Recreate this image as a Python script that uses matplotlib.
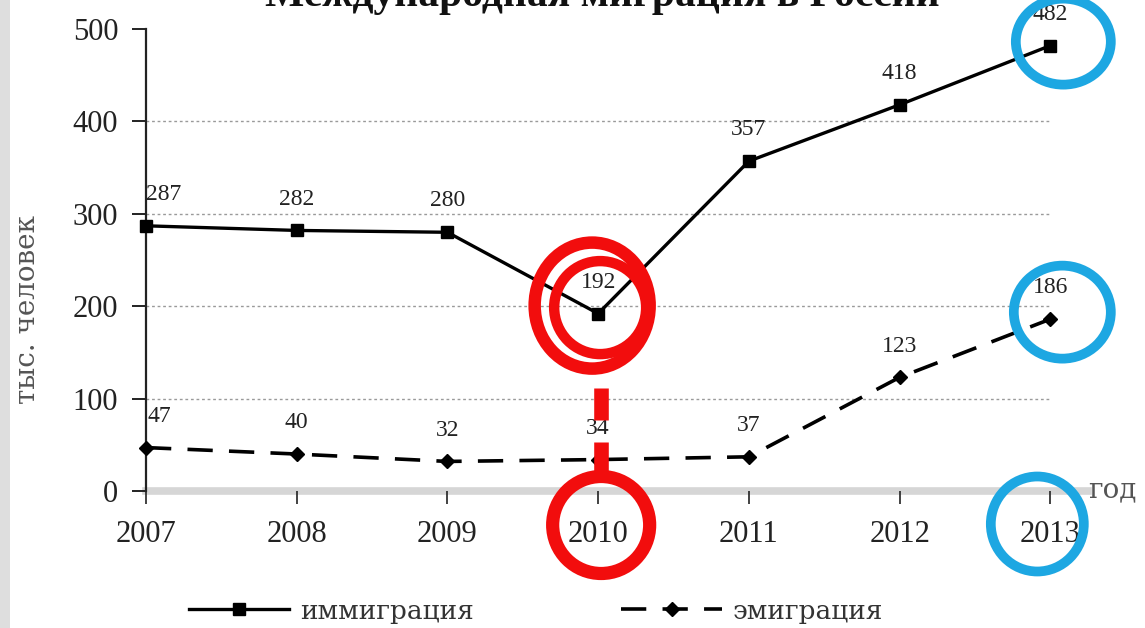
import matplotlib
matplotlib.use("Agg")
import matplotlib.pyplot as plt
from matplotlib.patches import Ellipse, Rectangle
from matplotlib.transforms import IdentityTransform
from matplotlib.lines import Line2D

years = [2007, 2008, 2009, 2010, 2011, 2012, 2013]
immigration = [287, 282, 280, 192, 357, 418, 482]
emigration = [47, 40, 32, 34, 37, 123, 186]
yticks = [0, 100, 200, 300, 400, 500]
title = "Международная миграция в России"
ylabel = "тыс. человек"
xlabel = "год"
names = ["иммиграция", "эмиграция"]

plt.rcParams['font.family'] = ['Liberation Serif', 'DejaVu Serif']
wide = ['DejaVu Serif', 'Liberation Serif']

W, H = 1145, 628
fig = plt.figure(figsize=(W / 100, H / 100), dpi=100)
fig.patch.set_facecolor("white")
# light grey strip at left edge
fig.add_artist(Rectangle((0, 0), 10 / W, 1, transform=fig.transFigure,
                         facecolor="#dedede", edgecolor="none"))

ax = fig.add_axes([146 / W, 1 - 491 / H, 942 / W, 462 / H])
ax.set_xlim(2007, 2013.25)
ax.set_ylim(0, 500)
ax.set_facecolor("none")

for s in ["top", "right", "bottom"]:
    ax.spines[s].set_visible(False)
ax.spines["left"].set_linewidth(1.6)
ax.spines["left"].set_color("#222222")

# gridlines
ax.hlines(yticks[1:-1], years[0], years[-1], colors="#9a9a9a",
          linestyles=(0, (2, 2)), linewidth=1.0, zorder=1)
# zero line
ax.axhline(0, color="#d6d6d6", linewidth=5.5, zorder=1, clip_on=False)

l1, = ax.plot(years, immigration, color="black", linewidth=2.4, marker="s",
              markersize=8, zorder=4, clip_on=False)
l2, = ax.plot(years, emigration, color="black", linewidth=2.6, marker="D",
              markersize=7.5, dashes=(7, 4.5), zorder=4, clip_on=False)

lab_fs = 17
for i, (x, v) in enumerate(zip(years, immigration)):
    dx = 0.12 if i == 0 else 0
    ax.annotate(str(v), (x + dx, v), xytext=(0, 15), textcoords="offset points",
                ha="center", va="bottom", fontsize=lab_fs, color="#222222", zorder=5)
for i, (x, v) in enumerate(zip(years, emigration)):
    dx = 0.09 if i == 0 else 0
    ax.annotate(str(v), (x + dx, v), xytext=(0, 15), textcoords="offset points",
                ha="center", va="bottom", fontsize=lab_fs, color="#222222", zorder=5)

ax.set_xticks(years)
ax.set_xticklabels([str(y) for y in years], fontsize=22)
ax.tick_params(axis="x", direction="out", length=9, width=1.2, pad=12, colors="#222222")
ax.set_yticks(yticks)
ax.set_yticklabels([str(y) for y in yticks], fontsize=22)
ax.tick_params(axis="y", direction="out", length=10, width=1.4, pad=10, colors="#222222")

fig.text(28 / W, 1 - 310 / H, ylabel, rotation=90, ha="center", va="center",
         fontsize=20, color="#555555", family=wide)
fig.text(1088 / W, 1 - 490 / H, xlabel, ha="left", va="center",
         fontsize=20, color="#555555", family=wide)
fig.text(602 / W, 1 - 6 / H, title, ha="center", va="baseline",
         fontsize=30, fontweight="bold", color="#111111")

leg = fig.legend([l1, l2], names, loc="center", bbox_to_anchor=(0.468, 1 - 611 / H),
                 ncol=2, frameon=False, handlelength=3.8,
                 columnspacing=5.6, handletextpad=0.4,
                 prop={'family': wide, 'size': 19})
for t in leg.get_texts():
    t.set_color("#333333")

# annotation rings
def px(x, y):
    return ax.transData.transform((x, y))

ident = IdentityTransform()
red = "#f20d0d"
blue = "#1da7e2"

cx, cy = px(2010, 192)
fig.add_artist(Ellipse((cx - 6, cy + 8), 115, 126, fill=False, edgecolor=red,
                       linewidth=9, transform=ident, zorder=10))
fig.add_artist(Ellipse((cx + 2, cy + 6), 92, 93, fill=False, edgecolor=red,
                       linewidth=7.5, transform=ident, zorder=10))
bx, _ = px(2010, 0)
by = H - 525
fig.add_artist(Ellipse((bx + 3, by), 97, 97, fill=False, edgecolor=red,
                       linewidth=9.5, transform=ident, zorder=10))
for y0, y1 in [(388, 420), (442, 473)]:
    fig.add_artist(Line2D([bx + 3, bx + 3], [H - y0, H - y1], color=red,
                          linewidth=10.5, solid_capstyle="butt", transform=ident, zorder=10))

tx, ty = px(2013, 482)
fig.add_artist(Ellipse((tx + 13, ty + 4), 95, 86, fill=False, edgecolor=blue,
                       linewidth=7, transform=ident, zorder=10))
mx, my = px(2013, 186)
fig.add_artist(Ellipse((mx + 12, my + 7), 97, 93, fill=False, edgecolor=blue,
                       linewidth=7, transform=ident, zorder=10))
fig.add_artist(Ellipse((mx - 13, H - 524), 93, 95, fill=False, edgecolor=blue,
                       linewidth=7, transform=ident, zorder=10))

fig.savefig("out.png", dpi=100)
